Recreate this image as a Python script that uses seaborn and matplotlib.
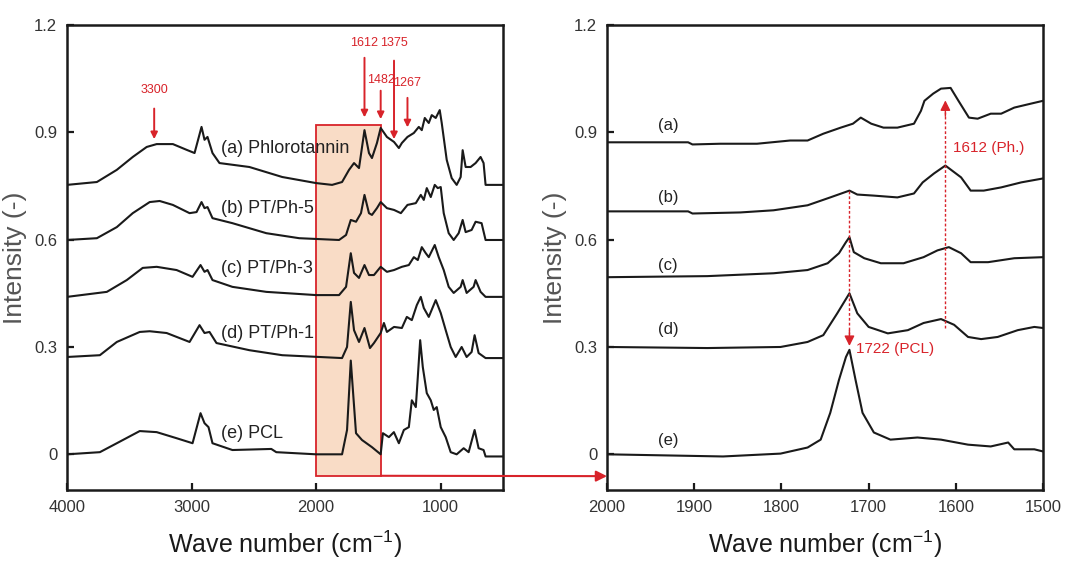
import matplotlib
matplotlib.use("Agg")
import matplotlib.pyplot as plt
from matplotlib import font_manager
from matplotlib.patches import Rectangle, ConnectionPatch
import seaborn as sns
import pandas as pd

# ---------------- FTIR spectra, full range (wavenumber, offset intensity) ----------------
full_a_wn = [4000, 3760, 3600, 3472, 3360, 3280, 3150, 3040, 2976, 2920, 2896, 2872, 2832, 2776, 2536, 2272,
             2000, 1872, 1792, 1736, 1696, 1656, 1612, 1576, 1552, 1512, 1482, 1432, 1375, 1336, 1312, 1267,
             1216, 1176, 1152, 1128, 1096, 1072, 1040, 1008, 992, 952, 912, 872, 840, 824, 800, 760, 720, 680,
             656, 640, 500]
full_a_int = [0.753, 0.761, 0.795, 0.831, 0.859, 0.867, 0.867, 0.851, 0.842, 0.915, 0.879, 0.887, 0.842, 0.814,
              0.803, 0.775, 0.758, 0.753, 0.761, 0.795, 0.814, 0.80, 0.906, 0.842, 0.828, 0.87, 0.912, 0.887,
              0.873, 0.856, 0.87, 0.887, 0.898, 0.915, 0.906, 0.94, 0.926, 0.948, 0.94, 0.962, 0.926, 0.823,
              0.772, 0.753, 0.775, 0.85, 0.803, 0.803, 0.814, 0.831, 0.814, 0.753, 0.753]

full_b_wn = [4000, 3760, 3600, 3472, 3336, 3256, 3150, 3016, 2960, 2920, 2896, 2872, 2832, 2672, 2400, 2136,
             1816, 1760, 1722, 1680, 1640, 1612, 1576, 1552, 1512, 1482, 1432, 1375, 1320, 1267, 1200, 1160,
             1136, 1112, 1080, 1048, 1024, 1000, 976, 936, 896, 856, 824, 800, 752, 720, 672, 640, 500]
full_b_int = [0.599, 0.604, 0.635, 0.674, 0.705, 0.708, 0.697, 0.674, 0.677, 0.705, 0.688, 0.691, 0.66, 0.646,
              0.618, 0.604, 0.599, 0.613, 0.655, 0.65, 0.674, 0.725, 0.674, 0.669, 0.688, 0.705, 0.688, 0.683,
              0.674, 0.697, 0.702, 0.725, 0.711, 0.744, 0.719, 0.753, 0.744, 0.747, 0.674, 0.618, 0.599, 0.618,
              0.655, 0.621, 0.627, 0.65, 0.646, 0.599, 0.599]

full_c_wn = [4000, 3680, 3520, 3392, 3280, 3120, 2992, 2928, 2896, 2872, 2832, 2672, 2400, 2000, 1816, 1760,
             1722, 1696, 1656, 1612, 1576, 1536, 1482, 1432, 1375, 1312, 1256, 1216, 1184, 1152, 1120, 1096,
             1048, 1016, 976, 936, 896, 840, 824, 792, 736, 720, 680, 640, 500]
full_c_int = [0.44, 0.454, 0.487, 0.521, 0.524, 0.515, 0.496, 0.529, 0.51, 0.515, 0.487, 0.468, 0.454, 0.445,
              0.445, 0.468, 0.562, 0.507, 0.493, 0.529, 0.501, 0.501, 0.524, 0.51, 0.515, 0.524, 0.529, 0.551,
              0.543, 0.579, 0.562, 0.551, 0.585, 0.551, 0.515, 0.468, 0.451, 0.468, 0.487, 0.451, 0.468, 0.487,
              0.454, 0.44, 0.44]

full_d_wn = [4000, 3736, 3600, 3416, 3336, 3200, 3016, 2936, 2896, 2856, 2800, 2536, 2272, 1792, 1752, 1722,
             1696, 1656, 1612, 1568, 1536, 1482, 1456, 1432, 1375, 1312, 1272, 1232, 1192, 1160, 1136, 1096,
             1040, 1000, 960, 920, 880, 832, 792, 752, 728, 696, 640, 500]
full_d_int = [0.272, 0.277, 0.314, 0.342, 0.344, 0.339, 0.314, 0.361, 0.339, 0.342, 0.311, 0.291, 0.277, 0.269,
              0.3, 0.426, 0.347, 0.314, 0.353, 0.297, 0.311, 0.339, 0.367, 0.342, 0.356, 0.353, 0.384, 0.375,
              0.417, 0.44, 0.409, 0.384, 0.431, 0.395, 0.347, 0.3, 0.272, 0.3, 0.272, 0.286, 0.333, 0.283,
              0.269, 0.269]

full_e_wn = [4000, 3736, 3600, 3416, 3280, 3120, 2992, 2928, 2896, 2864, 2832, 2672, 2360, 2320, 2000, 1792,
             1752, 1722, 1680, 1632, 1552, 1482, 1464, 1416, 1376, 1336, 1296, 1256, 1232, 1200, 1184, 1165,
             1144, 1112, 1080, 1056, 1032, 1000, 960, 920, 872, 816, 776, 728, 696, 656, 640, 500]
full_e_int = [0.0, 0.006, 0.031, 0.065, 0.062, 0.045, 0.031, 0.115, 0.087, 0.076, 0.031, 0.012, 0.015, 0.006,
              0.0, 0.0, 0.068, 0.262, 0.059, 0.04, 0.02, 0.0, 0.059, 0.048, 0.062, 0.031, 0.068, 0.076, 0.151,
              0.132, 0.216, 0.319, 0.244, 0.171, 0.151, 0.124, 0.132, 0.076, 0.048, 0.006, 0.0, 0.017, 0.006,
              0.068, 0.017, 0.012, -0.006, -0.006]

# ---------------- FTIR spectra, carbonyl region 2000-1500 cm-1 ----------------
zoom_a_wn = [2000, 1907, 1902, 1870, 1828, 1790, 1770, 1752, 1732, 1718, 1709, 1697, 1683, 1667, 1648, 1640,
             1636, 1626, 1617, 1606, 1597, 1585, 1575, 1560, 1548, 1533, 1514, 1500]
zoom_a_int = [0.872, 0.872, 0.866, 0.868, 0.868, 0.877, 0.877, 0.896, 0.913, 0.924, 0.941, 0.924, 0.913, 0.913,
              0.924, 0.96, 0.988, 1.008, 1.022, 1.024, 0.988, 0.941, 0.938, 0.952, 0.952, 0.969, 0.98, 0.988]

zoom_b_wn = [2000, 1907, 1902, 1847, 1809, 1770, 1744, 1722, 1713, 1694, 1667, 1648, 1638, 1625, 1612, 1594,
             1583, 1568, 1548, 1525, 1500]
zoom_b_int = [0.679, 0.679, 0.673, 0.676, 0.682, 0.696, 0.718, 0.737, 0.726, 0.723, 0.718, 0.729, 0.76, 0.785,
              0.807, 0.774, 0.737, 0.737, 0.746, 0.76, 0.771]

zoom_c_wn = [2000, 1885, 1809, 1770, 1747, 1734, 1726, 1722, 1717, 1705, 1686, 1660, 1637, 1621, 1608, 1594,
             1583, 1563, 1533, 1500]
zoom_c_int = [0.495, 0.498, 0.506, 0.515, 0.534, 0.562, 0.593, 0.607, 0.565, 0.548, 0.534, 0.534, 0.551, 0.57,
              0.579, 0.562, 0.537, 0.537, 0.548, 0.551]

zoom_d_wn = [2000, 1885, 1801, 1770, 1752, 1736, 1722, 1713, 1700, 1678, 1655, 1637, 1617, 1602, 1586, 1571,
             1552, 1529, 1510, 1500]
zoom_d_int = [0.3, 0.297, 0.3, 0.314, 0.333, 0.394, 0.45, 0.394, 0.356, 0.338, 0.347, 0.367, 0.378, 0.362,
              0.328, 0.322, 0.328, 0.347, 0.356, 0.353]

zoom_e_wn = [2000, 1867, 1801, 1770, 1755, 1744, 1734, 1726, 1722, 1715, 1707, 1694, 1675, 1644, 1617, 1586,
             1560, 1540, 1533, 1510, 1500]
zoom_e_int = [0.0, -0.006, 0.002, 0.019, 0.041, 0.116, 0.208, 0.272, 0.292, 0.208, 0.116, 0.061, 0.041, 0.047,
              0.041, 0.027, 0.022, 0.033, 0.014, 0.014, 0.008]

sample_labels = ["(a) Phlorotannin", "(b) PT/Ph-5", "(c) PT/Ph-3", "(d) PT/Ph-1", "(e) PCL"]
sample_label_y = [0.856, 0.688, 0.52, 0.339, 0.057]
short_labels = ["(a)", "(b)", "(c)", "(d)", "(e)"]
short_label_y = [0.919, 0.718, 0.529, 0.348, 0.04]

# peak markers on the full spectrum: (position, label y, arrow top, arrow tip)
peak_pos = [3300, 1612, 1482, 1375, 1267]
peak_text_y = [1.018, 1.15, 1.046, 1.15, 1.038]
peak_arrow_top = [0.974, 1.116, 1.024, 1.108, 1.004]
peak_arrow_tip = [0.873, 0.934, 0.929, 0.873, 0.906]

x_ticks_full = [4000, 3000, 2000, 1000]
x_ticks_zoom = [2000, 1900, 1800, 1700, 1600, 1500]
y_ticks = [0, 0.3, 0.6, 0.9, 1.2]
y_tick_labels = ["0", "0.3", "0.6", "0.9", "1.2"]

# ---------------- styling ----------------
sns.set_theme(style="ticks")
available = {f.name for f in font_manager.fontManager.ttflist}
narrow = "Liberation Sans Narrow" if "Liberation Sans Narrow" in available else "Liberation Sans"
plt.rcParams["font.family"] = ["Liberation Sans", "DejaVu Sans"]

RED = "#d8232a"
PEACH = "#f9dcc6"
INK = "#1a1a1a"

fig = plt.figure(figsize=(10.82, 5.80), dpi=100)
axL = fig.add_axes([0.0619, 0.155, 0.403, 0.802])
axR = fig.add_axes([0.561, 0.155, 0.403, 0.802])


def long_frame(pairs):
    rows = []
    for name, (wn, it) in pairs.items():
        rows.append(pd.DataFrame({"wn": wn, "intensity": it, "sample": name}))
    return pd.concat(rows, ignore_index=True)


full_df = long_frame({
    "a": (full_a_wn, full_a_int), "b": (full_b_wn, full_b_int), "c": (full_c_wn, full_c_int),
    "d": (full_d_wn, full_d_int), "e": (full_e_wn, full_e_int)})
zoom_df = long_frame({
    "a": (zoom_a_wn, zoom_a_int), "b": (zoom_b_wn, zoom_b_int), "c": (zoom_c_wn, zoom_c_int),
    "d": (zoom_d_wn, zoom_d_int), "e": (zoom_e_wn, zoom_e_int)})

black = {k: INK for k in "abcde"}
sns.lineplot(data=full_df, x="wn", y="intensity", hue="sample", palette=black, estimator=None,
             sort=False, linewidth=1.5, legend=False, ax=axL, zorder=3)
sns.lineplot(data=zoom_df, x="wn", y="intensity", hue="sample", palette=black, estimator=None,
             sort=False, linewidth=1.5, legend=False, ax=axR, zorder=3)

xl_size = 21 if narrow != "Liberation Sans" else 18
for ax, xt in ((axL, x_ticks_full), (axR, x_ticks_zoom)):
    ax.set_ylim(-0.1, 1.2)
    ax.set_yticks(y_ticks)
    ax.set_yticklabels(y_tick_labels)
    ax.set_xticks(xt)
    ax.tick_params(direction="in", length=5, width=1.6, labelsize=12, colors=INK, labelcolor="#333333",
                   pad=7, top=False, right=False)
    for sp in ax.spines.values():
        sp.set_linewidth(1.8)
        sp.set_color(INK)
        sp.set_visible(True)
    ax.set_ylabel("Intensity (-)", fontsize=19, color="#555555")
    ax.yaxis.set_label_coords(-0.092, 0.5)
    ax.set_xlabel(r"Wave number (cm$^{\mathregular{-1}}$)", fontsize=xl_size, family=narrow,
                  color=INK, labelpad=10)

axL.set_xlim(4000, 500)
axR.set_xlim(2000, 1500)

# highlighted carbonyl window on the full spectrum
axL.add_patch(Rectangle((1480, -0.06), 2000 - 1480, 0.92 + 0.06, facecolor=PEACH, edgecolor=RED,
                        linewidth=1.3, zorder=1))

# link from the window to the expanded panel
link = ConnectionPatch(xyA=(1480, -0.06), coordsA=axL.transData, xyB=(2000, -0.061), coordsB=axR.transData,
                       arrowstyle="-|>", color=RED, linewidth=1.5, mutation_scale=16, zorder=5)
fig.add_artist(link)

# sample names
for txt, y in zip(sample_labels, sample_label_y):
    axL.text(2760, y, txt, fontsize=13, color="#222222", ha="left", va="center", zorder=4)
for txt, y in zip(short_labels, short_label_y):
    axR.text(1930, y, txt, fontsize=12, color="#222222", ha="center", va="center", zorder=4)

# peak markers on the full spectrum
for pos, ty, top, tip in zip(peak_pos, peak_text_y, peak_arrow_top, peak_arrow_tip):
    axL.annotate("", xy=(pos, tip), xytext=(pos, top),
                 arrowprops=dict(arrowstyle="-|>", color=RED, lw=1.4, mutation_scale=10), zorder=5)
    axL.text(pos, ty, str(pos), fontsize=9, family=narrow, color=RED, ha="center", va="center")

# dotted guides in the expanded panel
pcl_pos, pcl_top, pcl_tip = 1722, 0.737, 0.295
ph_pos, ph_bottom, ph_tip = 1612, 0.353, 0.997
axR.plot([pcl_pos, pcl_pos], [pcl_top, pcl_tip + 0.04], linestyle=(0, (2, 1.5)), color=RED, lw=1.0, zorder=4)
axR.annotate("", xy=(pcl_pos, pcl_tip), xytext=(pcl_pos, pcl_tip + 0.06),
             arrowprops=dict(arrowstyle="-|>", color=RED, lw=1.0, mutation_scale=15), zorder=5)
axR.text(1715, 0.295, "1722 (PCL)", fontsize=11, family=narrow, color=RED, ha="left", va="center")

axR.plot([ph_pos, ph_pos], [ph_bottom, ph_tip - 0.04], linestyle=(0, (2, 1.5)), color=RED, lw=1.0, zorder=4)
axR.annotate("", xy=(ph_pos, ph_tip), xytext=(ph_pos, ph_tip - 0.06),
             arrowprops=dict(arrowstyle="-|>", color=RED, lw=1.0, mutation_scale=15), zorder=5)
axR.text(1603, 0.855, "1612 (Ph.)", fontsize=11, family=narrow, color=RED, ha="left", va="center")

fig.savefig("out.png", dpi=100, facecolor="white")
